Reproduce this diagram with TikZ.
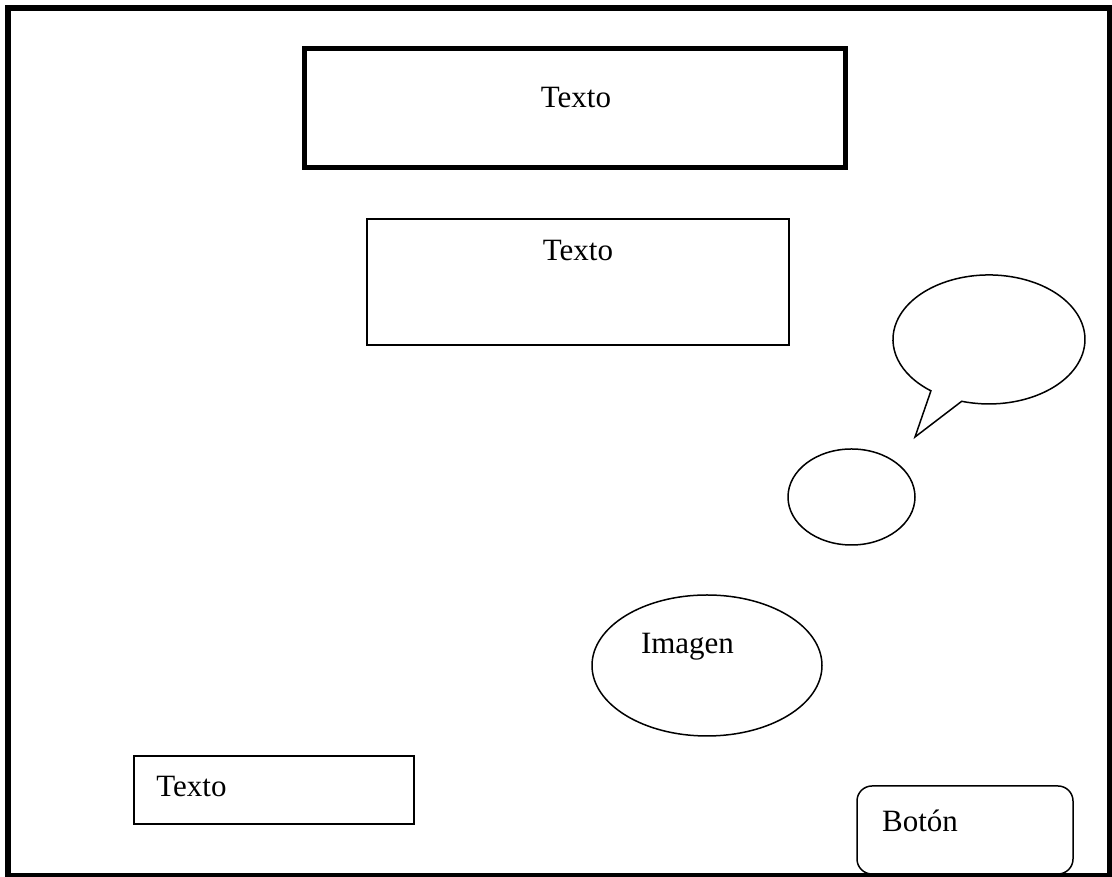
\documentclass[tikz,border=0pt]{standalone}
\usepackage{fontspec}
\setmainfont{Liberation Serif}
\usetikzlibrary{shapes.geometric}
\begin{document}
\begin{tikzpicture}[x=1pt,y=1pt,
  thin line/.style={draw=black,line width=1.5pt},
  box/.style={thin line,rectangle,inner sep=0pt},
  oval/.style={thin line,ellipse,inner sep=0pt},
  lbl/.style={anchor=base,inner sep=0pt,font=\fontsize{31}{36}\selectfont}]
\useasboundingbox (0,0) rectangle (1112,877);
\fill[white] (0,0) rectangle (1112,877);
% outer frame
\draw[line width=6pt] (8,869) rectangle (1110,1);
% title box
\node[box,line width=5pt,minimum width=540.5pt,minimum height=119pt] (title) at (574.75,769) {};
\node[lbl] (t1) at (576,769) {Texto};
% second box
\node[box,minimum width=422pt,minimum height=126pt] (box2) at (578,595) {};
\node[lbl] (t2) at (578,616) {Texto};
% speech bubble
\draw[thin line,line join=miter] (961.7,475.7) arc[start angle=253.5,end angle=592.8,x radius=96,y radius=64.5]
  coordinate (bubA) -- (915,440) coordinate (bubtip) -- cycle;
% small ellipse
\node[oval,minimum width=127pt,minimum height=96pt] (circ) at (851.5,380) {};
% image ellipse
\node[oval,minimum width=230pt,minimum height=141pt] (img) at (707,211.5) {};
\node[lbl] (t3) at (687.5,223) {Imagen};
% bottom text box
\node[box,minimum width=280pt,minimum height=68pt] (box3) at (274,87) {};
\node[lbl] (t4) at (191.5,80) {Texto};
% button
\node[box,rounded corners=15pt,minimum width=216pt,minimum height=88pt] (btn) at (965,47) {};
\node[lbl] (t5) at (920,45) {Botón};
\end{tikzpicture}
\end{document}
